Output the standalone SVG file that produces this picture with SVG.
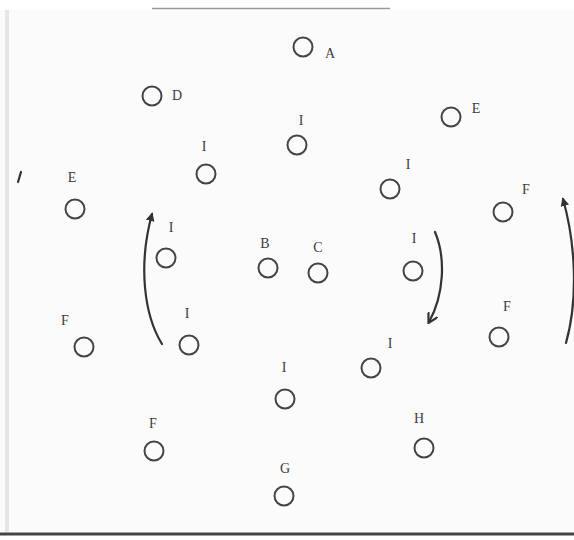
<svg xmlns="http://www.w3.org/2000/svg" width="574" height="540" viewBox="0 0 574 540">
  <style>
    .n circle { fill: none; stroke: #444; stroke-width: 2; }
    .n text { font-family: "Liberation Serif", "DejaVu Serif", serif; font-size: 14px; fill: #3c3c3c; text-anchor: middle; }
    .c path { fill: none; stroke: #333; stroke-width: 2.2; stroke-linecap: round; }
  </style>
  <defs>
    <marker id="ah" viewBox="0 0 10 10" refX="8" refY="5" markerWidth="4" markerHeight="4" orient="auto-start-reverse">
      <path d="M0,0 L10,5 L0,10 Z" fill="#333"/>
    </marker>
    <marker id="ao" viewBox="0 0 10 10" refX="8" refY="5" markerWidth="5" markerHeight="5" orient="auto">
      <path d="M0,0 L9,5 L0,10" fill="none" stroke="#333" stroke-width="2"/>
    </marker>
  </defs>
  <rect x="0" y="0" width="574" height="540" fill="#ffffff"/>
  <rect x="0" y="10" width="574" height="522" fill="#fbfbfb"/>
  <rect x="5" y="10" width="4" height="522" fill="#e6e6e6"/>
  <line x1="152" y1="8.5" x2="390" y2="8.5" stroke="#999" stroke-width="1.5"/>
  <line x1="0" y1="534" x2="574" y2="534" stroke="#444" stroke-width="3"/>

  <g class="c" id="connectors">
    <path d="M162,344 C144,315 138,265 152,214" marker-end="url(#ah)"/>
    <path d="M435,232 C446,258 444,295 429,322" marker-end="url(#ao)"/>
    <path d="M566,343 C578,300 576,245 563,199" marker-end="url(#ah)"/>
    <path d="M21,172 L18,182"/>
  </g>

  <g class="n" id="node-A"><circle cx="303" cy="47" r="9.5"/><text x="330" y="58">A</text></g>
  <g class="n" id="node-D"><circle cx="152" cy="96" r="9.5"/><text x="177" y="100">D</text></g>
  <g class="n" id="node-E1"><circle cx="451" cy="117" r="9.5"/><text x="476" y="113">E</text></g>
  <g class="n" id="node-I1"><circle cx="297" cy="145" r="9.5"/><text x="301" y="125">I</text></g>
  <g class="n" id="node-I2"><circle cx="206" cy="174" r="9.5"/><text x="204" y="151">I</text></g>
  <g class="n" id="node-I3"><circle cx="390" cy="189" r="9.5"/><text x="408" y="169">I</text></g>
  <g class="n" id="node-E2"><circle cx="75" cy="209" r="9.5"/><text x="72" y="182">E</text></g>
  <g class="n" id="node-F1"><circle cx="503" cy="212" r="9.5"/><text x="526" y="194">F</text></g>
  <g class="n" id="node-I4"><circle cx="166" cy="258" r="9.5"/><text x="171" y="232">I</text></g>
  <g class="n" id="node-B"><circle cx="268" cy="268" r="9.5"/><text x="265" y="248">B</text></g>
  <g class="n" id="node-C"><circle cx="318" cy="273" r="9.5"/><text x="318" y="252">C</text></g>
  <g class="n" id="node-I5"><circle cx="413" cy="271" r="9.5"/><text x="414" y="243">I</text></g>
  <g class="n" id="node-F2"><circle cx="499" cy="337" r="9.5"/><text x="507" y="311">F</text></g>
  <g class="n" id="node-F3"><circle cx="84" cy="347" r="9.5"/><text x="65" y="325">F</text></g>
  <g class="n" id="node-I6"><circle cx="189" cy="345" r="9.5"/><text x="187" y="318">I</text></g>
  <g class="n" id="node-I7"><circle cx="371" cy="368" r="9.5"/><text x="390" y="348">I</text></g>
  <g class="n" id="node-I8"><circle cx="285" cy="399" r="9.5"/><text x="284" y="372">I</text></g>
  <g class="n" id="node-F4"><circle cx="154" cy="451" r="9.5"/><text x="153" y="428">F</text></g>
  <g class="n" id="node-H"><circle cx="424" cy="448" r="9.5"/><text x="419" y="423">H</text></g>
  <g class="n" id="node-G"><circle cx="284" cy="496" r="9.5"/><text x="285" y="473">G</text></g>
</svg>
